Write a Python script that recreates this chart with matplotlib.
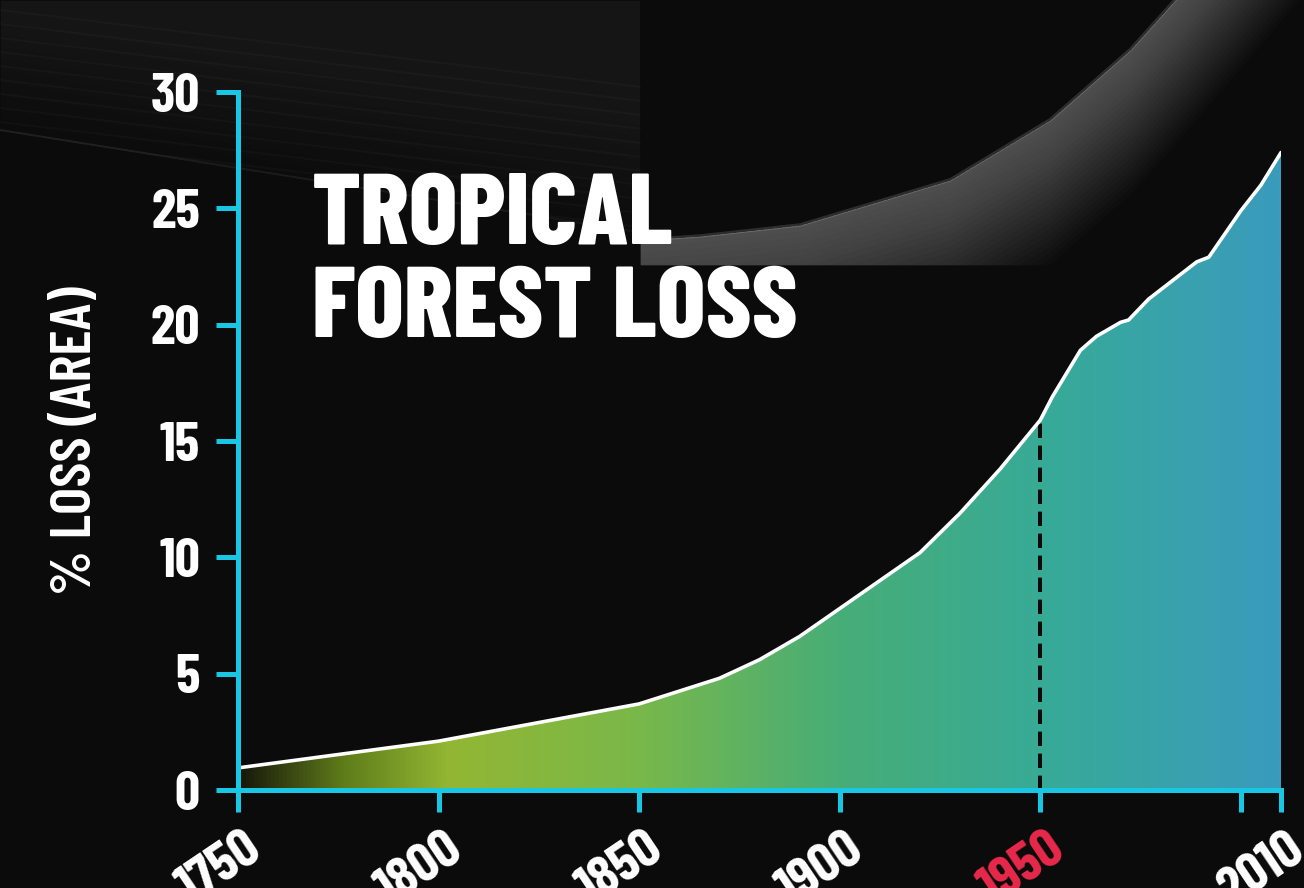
import numpy as np
import matplotlib.pyplot as plt
from matplotlib.colors import LinearSegmentedColormap
from matplotlib.transforms import ScaledTranslation

# data
years = [1750, 1800, 1850, 1870, 1880, 1890, 1900, 1920, 1930, 1940, 1950, 1953,
         1960, 1964, 1970, 1972, 1977, 1983, 1989, 1992, 2000, 2005, 2010]
loss = [0.95, 2.1, 3.7, 4.8, 5.6, 6.6, 7.8, 10.2, 11.9, 13.8, 15.9, 16.9,
        18.9, 19.5, 20.1, 20.2, 21.1, 21.9, 22.7, 22.9, 24.9, 26.0, 27.4]
tick_years = [1750, 1800, 1850, 1900, 1950, 2000, 2010]
tick_labels = ["1750", "1800", "1850", "1900", "1950", "", "2010"]
y_ticks = [0, 5, 10, 15, 20, 25, 30]

BG = "#0b0b0b"
CYAN = "#19c6e3"
RED = "#e8294b"
PX = 72 / 100  # points per pixel at dpi 100

plt.rcParams["font.family"] = ["Barlow Condensed", "DejaVu Sans"]
plt.rcParams["font.weight"] = 700

fig = plt.figure(figsize=(13.04, 8.88), dpi=100, facecolor=BG)

# backdrop in pixel coordinates (y counted from the top)
bg = fig.add_axes([0, 0, 1, 1], zorder=-5)
bg.axis("off")
bg.set_xlim(0, 1304)
bg.set_ylim(888, 0)
# grey band hanging below a ridge that sweeps up to the right
xs = np.linspace(640, 1304, 200)
ridge = np.interp(xs, [640, 700, 800, 950, 1050, 1130, 1175, 1304],
                  [240, 236, 225, 180, 120, 50, 0, -150])
for k in np.arange(6, 150, 6):
    bg.fill_between(xs, ridge, np.minimum(ridge + k, 265), color="white",
                    alpha=0.014, lw=0)
bg.plot(xs, ridge, color="white", alpha=0.14, lw=2.5)
# faint streaky haze at the top left
xl = np.linspace(0, 640, 100)
edge = 130 + 0.16 * xl
for k in np.arange(0, 120, 12):
    bg.fill_between(xl, 0, edge - k, color="white", alpha=0.006, lw=0)
for y0 in np.arange(10, 190, 14):
    bg.plot(xl, np.minimum(y0 + 0.12 * xl, edge), color="white", alpha=0.025, lw=1.5)

ax = fig.add_axes([238 / 1304, 1 - 790 / 888, (1281 - 238) / 1304, (790 - 92) / 888])
ax.set_facecolor("none")

# gradient fill under the curve
cmap = LinearSegmentedColormap.from_list("fl", [
    (0.0, "#16170a"), (0.1, "#5f7c1a"), (0.2, "#93b633"), (0.38, "#7ab84a"),
    (0.58, "#47ad78"), (0.78, "#37aa98"), (1.0, "#3a9bbd")])
grad = np.linspace(0, 1, 512).reshape(1, -1)
im = ax.imshow(grad, cmap=cmap, extent=[1750, 2010, 0, 30], aspect="auto",
               origin="lower", zorder=1)
poly = ax.fill_between(years, loss, 0, color="none")
im.set_clip_path(poly.get_paths()[0], transform=ax.transData)

ax.plot(years, loss, color="white", lw=3.6 * PX, zorder=3, solid_capstyle="round")
ax.vlines(1950, 0, np.interp(1950, years, loss), colors="#0a0a0a",
          linestyles=(0, (3.6, 1.9)), lw=4 * PX, zorder=2)

ax.set_xlim(1750, 2010)
ax.set_ylim(0, 30)
for s in ["top", "right"]:
    ax.spines[s].set_visible(False)
for s in ["left", "bottom"]:
    ax.spines[s].set_color(CYAN)
    ax.spines[s].set_linewidth(5 * PX)
    ax.spines[s].set_zorder(4)

ax.set_yticks(y_ticks)
ax.set_yticklabels([str(v) for v in y_ticks])
ax.set_xticks(tick_years)
ax.set_xticklabels(tick_labels, rotation=34, ha="right", va="top",
                   rotation_mode="anchor")
ax.tick_params(axis="both", colors=CYAN, width=5 * PX, length=22 * PX,
               labelcolor="white", labelsize=40)
ax.tick_params(axis="y", pad=16 * PX)
ax.tick_params(axis="x", pad=12 * PX)
for lab in ax.get_xticklabels():
    lab.set_transform(lab.get_transform() + ScaledTranslation(0.05, 0, fig.dpi_scale_trans))
    if lab.get_text() == "1950":
        lab.set_color(RED)

ax.set_ylabel("% LOSS (AREA)", color="white", fontsize=42, fontweight=600)
ax.yaxis.set_label_coords((101 - 238) / 1043, 0.5)

fig.text(312 / 1304, 1 - 173 / 888, "TROPICAL\nFOREST LOSS", color="white",
         fontsize=73, fontweight=800, va="top", ha="left", linespacing=1.06)

fig.savefig("out.png", dpi=100, facecolor=BG)
